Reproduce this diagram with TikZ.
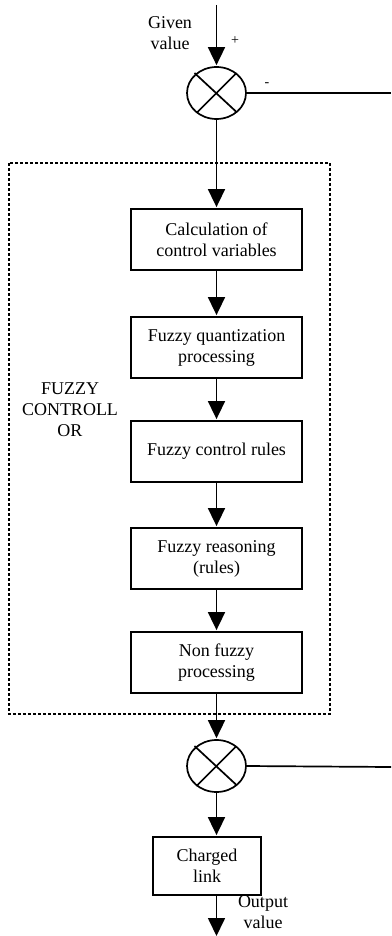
\documentclass[tikz,border=0pt]{standalone}
\usepackage{fontspec}
\setmainfont{Liberation Serif}
\usetikzlibrary{arrows.meta,shapes.geometric,calc}
\begin{document}
\begin{tikzpicture}[x=1pt,y=-1pt,
  every node/.style={font=\fontsize{18}{21}\selectfont},
  blk/.style={draw,line width=1.8pt,minimum width=171pt,minimum height=61pt,inner sep=0pt,align=center},
  sumj/.style={draw,ellipse,line width=1.7pt,minimum width=59pt,minimum height=52pt,inner sep=0pt},
  flow/.style={line width=1.7pt,-{Triangle[width=17pt,length=18pt]},shorten >=1pt},
  wire/.style={line width=1.7pt},
  lbl/.style={align=center,inner sep=0pt}]
\useasboundingbox (0,0) rectangle (391,936);
\coordinate (top) at (216.5,5);
\node[sumj] (s1) at (216.5,93) {};
\coordinate (r1) at (391,93);
\node[blk] (b1) at (216.5,239.5) {Calculation of\\control variables};
\node[blk] (b2) at (216.5,347.5) {Fuzzy quantization\\processing};
\node[blk] (b3) at (216.5,451.5) {Fuzzy control rules};
\node[blk] (b4) at (216.5,558.5) {Fuzzy reasoning\\(rules)};
\node[blk] (b5) at (216.5,662.5) {Non fuzzy\\processing};
\node[sumj] (s2) at (216.5,766) {};
\coordinate (r2) at (391,767);
\node[blk,minimum width=108pt,minimum height=58pt] (b6) at (207,866) {Charged\\link};
\coordinate (out) at (216.5,936);
\coordinate (b6b) at (216.5,895);
% dashed frame
\draw[line width=1.4pt,dash pattern=on 3pt off 2pt] (9,163) rectangle (330,714);
% crosses
\draw[wire] ($(s1)+(-22,-20)$) -- ($(s1)+(20,19)$);
\draw[wire] ($(s1)+(-20,20)$) -- ($(s1)+(20,-20)$);
\draw[wire] ($(s2)+(-22,-20)$) -- ($(s2)+(20,19)$);
\draw[wire] ($(s2)+(-20,20)$) -- ($(s2)+(20,-20)$);
% connectors
\draw[flow] (top) -- (s1.north);
\draw[wire] (s1.east) -- (r1);
\draw[flow] (s1.south) -- (b1.north);
\draw[flow] (b1) -- (b2);
\draw[flow] (b2) -- (b3);
\draw[flow] (b3) -- (b4);
\draw[flow] (b4) -- (b5);
\draw[flow] (b5.south) -- (s2.north);
\draw[wire] (s2.east) -- (r2);
\draw[flow] (s2.south) -- (s2.south |- b6.north);
\draw[flow,shorten >=0pt] (b6b) -- (out);
% labels
\node[lbl] (gv) at (170,33) {Given\\value};
\node[lbl,font=\fontsize{14}{16}\selectfont] (plus) at (235,41) {+};
\node[lbl,font=\fontsize{14}{16}\selectfont] (minus) at (267,85) {-};
\node[lbl] (fc) at (70,410) {FUZZY\\CONTROLL\\OR};
\node[lbl] (ov) at (263,912) {Output\\value};
\end{tikzpicture}
\end{document}
